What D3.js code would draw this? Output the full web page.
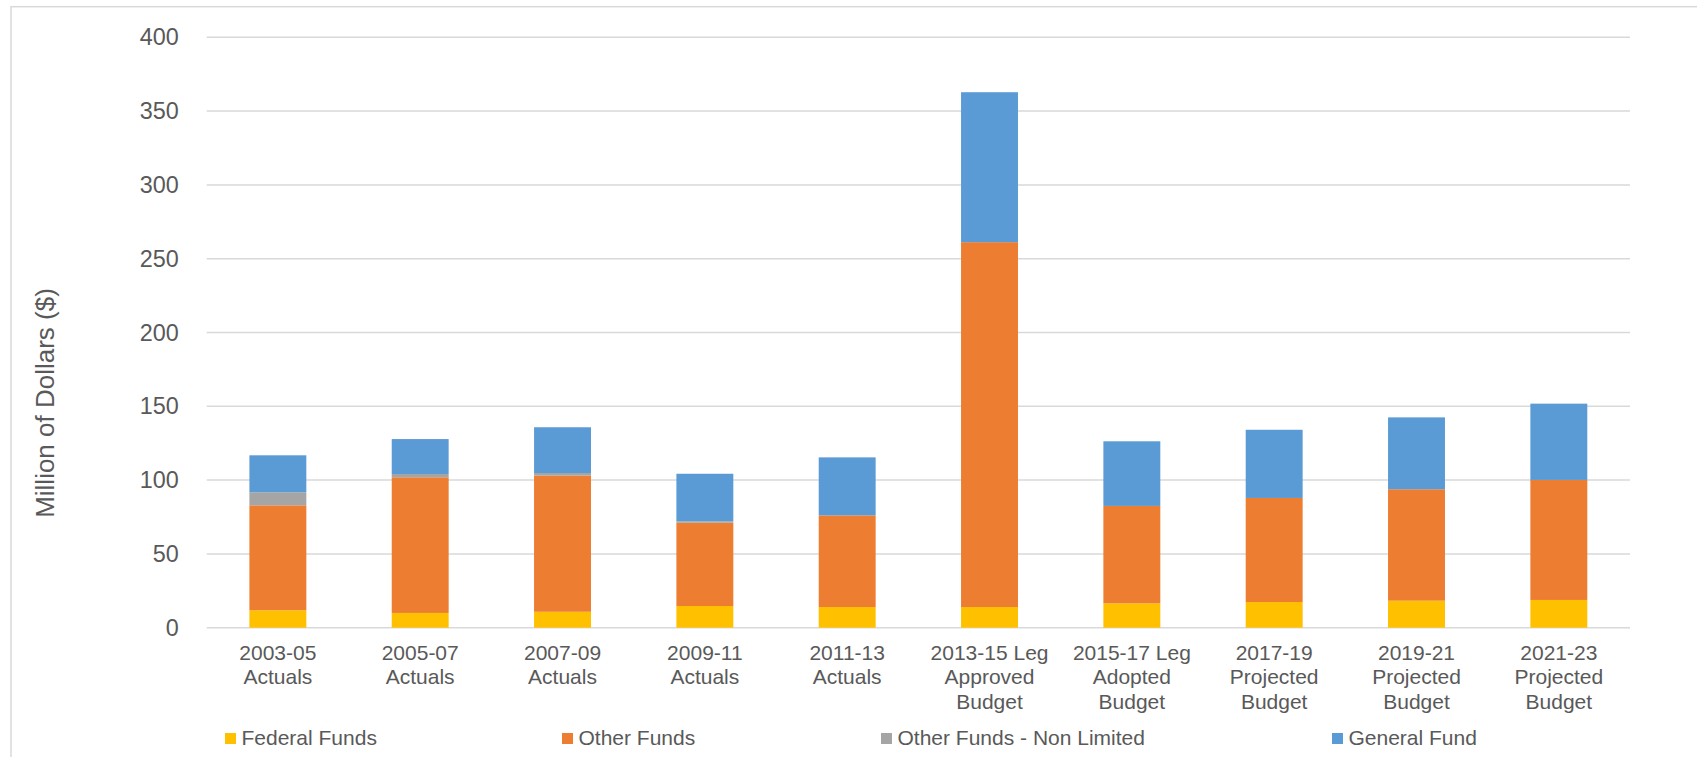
<!DOCTYPE html>
<html>
<head>
<meta charset="utf-8">
<script src="https://cdn.jsdelivr.net/npm/d3@7"></script>
<style>
  body { margin: 0; background: #fff; }
  svg { display: block; }
  text { font-family: "Liberation Sans", Arial, sans-serif; fill: #595959; }
</style>
</head>
<body>
<div id="chart"></div>
<script>
// categories (each entry is the wrapped label lines)
var categories = [
    ["2003-05", "Actuals"],
    ["2005-07", "Actuals"],
    ["2007-09", "Actuals"],
    ["2009-11", "Actuals"],
    ["2011-13", "Actuals"],
    ["2013-15 Leg", "Approved", "Budget"],
    ["2015-17 Leg", "Adopted", "Budget"],
    ["2017-19", "Projected", "Budget"],
    ["2019-21", "Projected", "Budget"],
    ["2021-23", "Projected", "Budget"]
];

// series values, million $
var federalFunds   = [11.8, 10.0, 10.8, 14.7, 14.0, 14.0, 16.5, 17.4, 18.3, 18.8];
var otherFunds     = [71.1, 91.9, 92.2, 56.4, 62.1, 247.2, 66.0, 70.5, 75.5, 81.3];
var otherNonLim    = [8.8, 2.2, 1.8, 1.0, 0, 0, 0, 0, 0, 0];
var generalFund    = [25.1, 23.7, 31.0, 32.2, 39.3, 101.6, 43.8, 46.2, 48.7, 51.7];

var seriesNames = ["Federal Funds", "Other Funds", "Other Funds - Non Limited", "General Fund"];
var seriesKeys = ["fed", "other", "nonlim", "gf"];
var colors = ["#FFC000", "#ED7D31", "#A5A5A5", "#5B9BD5"];
var yTicks = [0, 50, 100, 150, 200, 250, 300, 350, 400];

var W = 1697, H = 757;
var margin = { top: 37.3, left: 206.7, right: 67, bottom: 129.3 };
var width = W - margin.left - margin.right,
    height = H - margin.top - margin.bottom;

var rows = categories.map(function (c, i) {
    return { key: i, fed: federalFunds[i], other: otherFunds[i], nonlim: otherNonLim[i], gf: generalFund[i] };
});

var svg = d3.select("#chart").append("svg")
    .attr("width", W)
    .attr("height", H);

// outer frame (runs off the right and bottom edges)
svg.append("rect")
    .attr("x", 11).attr("y", 6.7)
    .attr("width", W + 10).attr("height", H + 10)
    .attr("fill", "none")
    .attr("stroke", "#d9d9d9")
    .attr("stroke-width", 1.5);

var g = svg.append("g")
    .attr("transform", "translate(" + margin.left + "," + margin.top + ")");

var xScale = d3.scaleBand()
    .domain(d3.range(categories.length))
    .range([0, width])
    .paddingInner(0.6)
    .paddingOuter(0.3);

var yScale = d3.scaleLinear().domain([0, 400]).range([height, 0]);

// gridlines
g.append("g").selectAll("line")
    .data(yTicks)
    .enter().append("line")
    .attr("x1", 0).attr("x2", width)
    .attr("y1", function (d) { return yScale(d); })
    .attr("y2", function (d) { return yScale(d); })
    .attr("stroke", "#d9d9d9")
    .attr("stroke-width", 1.5);

// y tick labels
var yAxis = g.append("g")
    .call(d3.axisLeft(yScale).tickValues(yTicks).tickSize(0).tickPadding(28));
yAxis.select(".domain").remove();
yAxis.selectAll("text")
    .style("font-size", "23.4px")
    .style("fill", "#595959")
    .style("font-family", "'Liberation Sans', Arial, sans-serif");

// stacked bars
var stack = d3.stack().keys(seriesKeys);
var layers = stack(rows);

g.append("g").selectAll("g")
    .data(layers)
    .enter().append("g")
    .attr("fill", function (d, i) { return colors[i]; })
    .selectAll("rect")
    .data(function (d) { return d; })
    .enter().append("rect")
    .attr("x", function (d) { return xScale(d.data.key); })
    .attr("width", xScale.bandwidth())
    .attr("y", function (d) { return yScale(d[1]); })
    .attr("height", function (d) { return yScale(d[0]) - yScale(d[1]); });

// x axis labels
var xAxis = g.append("g")
    .attr("transform", "translate(0," + height + ")")
    .call(d3.axisBottom(xScale).tickSize(0).tickFormat(""));
xAxis.select(".domain").remove();

xAxis.selectAll(".tick").each(function (d) {
    var t = d3.select(this).append("text")
        .attr("text-anchor", "middle")
        .attr("y", 32.5)
        .style("font-size", "21px")
        .style("fill", "#595959");
    categories[d].forEach(function (line, j) {
        t.append("tspan")
            .attr("x", 0)
            .attr("dy", j === 0 ? 0 : 24.3)
            .text(line);
    });
});

// y axis title
svg.append("text")
    .attr("transform", "translate(53.5,403) rotate(-90)")
    .attr("text-anchor", "middle")
    .style("font-size", "26px")
    .text("Million of Dollars ($)");

// legend
var legendX = [225, 562, 881, 1332];
var legend = svg.append("g").selectAll("g")
    .data(seriesNames)
    .enter().append("g")
    .attr("transform", function (d, i) { return "translate(" + legendX[i] + ",733)"; });

legend.append("rect")
    .attr("width", 11).attr("height", 11)
    .attr("fill", function (d, i) { return colors[i]; });

legend.append("text")
    .attr("x", 16.5)
    .attr("y", 12)
    .style("font-size", "21px")
    .text(function (d) { return d; });
</script>
</body>
</html>
